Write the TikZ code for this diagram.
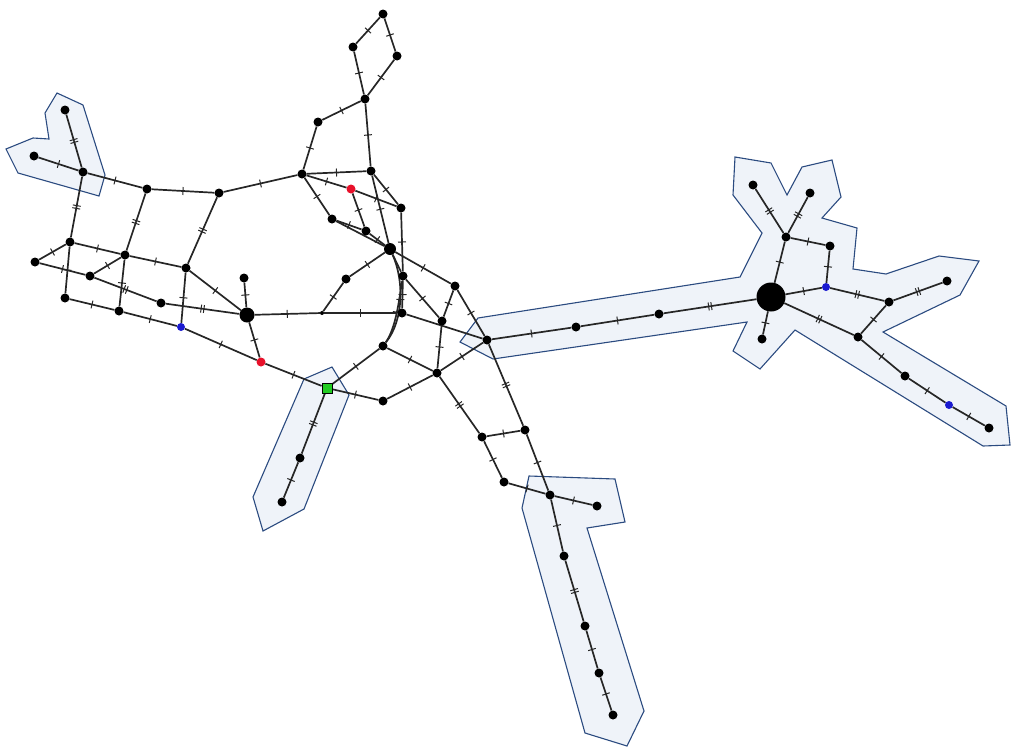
\documentclass[tikz,border=0pt]{standalone}
\usetikzlibrary{decorations.markings}
\pgfdeclarelayer{poly}
\pgfdeclarelayer{edges}
\pgfsetlayers{poly,edges,main}
\definecolor{regfill}{HTML}{EFF3F9}
\definecolor{regline}{HTML}{2B4B80}
\definecolor{rednode}{HTML}{E8102A}
\definecolor{bluenode}{HTML}{1A1AD0}
\definecolor{greennode}{HTML}{22CC22}
\tikzset{
 nd/.style={circle,fill=black,inner sep=0pt,minimum size=9pt},
 bignd/.style={nd,minimum size=15pt},
 hubnd/.style={nd,minimum size=29pt},
 midnd/.style={nd,minimum size=12pt},
 tinynd/.style={nd,minimum size=4pt},
 rednd/.style={circle,fill=rednode,inner sep=0pt,minimum size=9pt},
 bluend/.style={circle,fill=bluenode,inner sep=0pt,minimum size=8pt},
 greennd/.style={rectangle,fill=greennode,draw=black,line width=0.9pt,inner sep=0pt,minimum size=10pt},
 region/.style={fill=regfill,draw=regline,line width=1.1pt},
 ep/.style={draw=black!85,line width=1.7pt},
 e/.style={ep,postaction={decorate,decoration={markings,mark=at position 0.5 with {\draw[line width=1pt,black!85] (0,-4pt)--(0,4pt);}}}},
 ee/.style={ep,postaction={decorate,decoration={markings,mark=at position 0.5 with {\draw[line width=1pt,black!85] (-1.4pt,-4pt)--(-1.4pt,4pt) (1.4pt,-4pt)--(1.4pt,4pt);}}}}
}
\begin{document}
\begin{tikzpicture}[x=1pt,y=-1pt]
\useasboundingbox (0,0) rectangle (1014,747);
% shaded regions
\begin{pgfonlayer}{poly}
\path[region] (57,93) -- (83,105) -- (105,175) -- (99,196) -- (18,173) -- (6,149) -- (33,138) -- (49,139) -- (45,113) -- cycle;
\path[region] (304,379) -- (332,367) -- (349,395) -- (304,509) -- (263,531) -- (253,497) -- cycle;
\path[region] (529,476) -- (615,479) -- (625,522) -- (587,528) -- (644,711) -- (627,746) -- (585,733) -- (522,508) -- cycle;
\path[region] (762,233) -- (733,195) -- (735,157) -- (771,163) -- (787,195) -- (802,167) -- (832,160) -- (841,197) -- (822,218) -- (857,228) -- (853,269) -- (886,274) -- (939,256) -- (979,261) -- (960,295) -- (883,332) -- (1006,406) -- (1010,445) -- (983,446) -- (795,330) -- (760,369) -- (733,351) -- (747,322) -- (493,359) -- (460,342) -- (478,318) -- (740,277) -- cycle;
\end{pgfonlayer}
% nodes: left
\node[nd] (A1) at (65,110) {};
\node[nd] (A2) at (34,156) {};
\node[nd] (A3) at (83,172) {};
\node[nd] (B1) at (147,189) {};
\node[nd] (B2) at (219,193) {};
\node[nd] (C1) at (302,174) {};
\node[nd] (D0) at (35,262) {};
\node[nd] (D1) at (70,242) {};
\node[nd] (D2) at (125,255) {};
\node[nd] (D3) at (186,268) {};
\node[nd] (D4) at (90,276) {};
\node[nd] (D5) at (65,298) {};
\node[nd] (D6) at (119,311) {};
\node[nd] (D7) at (161,303) {};
\node[bluend] (BL1) at (181,327) {};
\node[bignd] (E) at (247,315) {};
\node[nd] (Et) at (244,278) {};
\node[rednd] (RD2) at (261,362) {};
\node[greennd] (G) at (327,388) {};
\node[nd] (G1) at (300,458) {};
\node[nd] (G2) at (282,502) {};
% top
\node[nd] (T1) at (383,14) {};
\node[nd] (T2) at (353,47) {};
\node[nd] (T3) at (397,56) {};
\node[nd] (T4) at (365,99) {};
\node[nd] (T5) at (318,122) {};
\node[nd] (T6) at (371,171) {};
\node[rednd] (RD1) at (351,189) {};
\node[nd] (T7) at (401,208) {};
\node[nd] (T8) at (332,219) {};
\node[nd] (T9) at (366,231) {};
\node[midnd] (T10) at (390,249) {};
\node[nd] (N1) at (403,276) {};
\node[nd] (N2) at (346,279) {};
\node[tinynd] (N3) at (322,313) {};
\node[nd] (N4) at (402,313) {};
\node[nd] (N5) at (455,286) {};
\node[nd] (N6) at (442,321) {};
\node[nd] (N7) at (383,346) {};
\node[nd] (N8) at (437,373) {};
\node[nd] (N9) at (383,401) {};
\node[nd] (P) at (487,340) {};
% bottom
\node[nd] (S1) at (525,430) {};
\node[nd] (S2) at (482,437) {};
\node[nd] (S3) at (504,482) {};
\node[nd] (S4) at (550,495) {};
\node[nd] (S5) at (597,506) {};
\node[nd] (S6) at (564,556) {};
\node[nd] (S7) at (585,626) {};
\node[nd] (S8) at (599,673) {};
\node[nd] (S9) at (613,715) {};
% right
\node[nd] (H1) at (576,327) {};
\node[nd] (H2) at (659,314) {};
\node[hubnd] (HUB) at (771,297) {};
\node[nd] (R1) at (753,185) {};
\node[nd] (R2) at (810,193) {};
\node[nd] (R3) at (786,237) {};
\node[nd] (R4) at (830,246) {};
\node[bluend] (BL2) at (826,287) {};
\node[nd] (R6) at (889,302) {};
\node[nd] (R7) at (947,281) {};
\node[nd] (R8) at (858,337) {};
\node[nd] (R9) at (905,376) {};
\node[bluend] (BL3) at (949,405) {};
\node[nd] (R11) at (989,428) {};
\node[nd] (R12) at (762,339) {};
% edges
\begin{pgfonlayer}{edges}
\draw[ee] (A1) -- (A3);
\draw[e] (A2) -- (A3);
\draw[e] (A3) -- (B1);
\draw[ee] (A3) -- (D1);
\draw[e] (B1) -- (B2);
\draw[ee] (B1) -- (D2);
\draw[e] (B2) -- (C1);
\draw[ee] (B2) -- (D3);
\draw[e] (D1) -- (D0);
\draw[e] (D1) -- (D2);
\draw[e] (D1) -- (D5);
\draw[e] (D2) -- (D3);
\draw[e] (D2) -- (D4);
\draw[e] (D2) -- (D6);
\draw[e] (D0) -- (D4);
\draw[ee] (D4) -- (D7);
\draw[e] (D3) -- (E);
\draw[e] (D3) -- (BL1);
\draw[e] (D5) -- (D6);
\draw[e] (D6) -- (BL1);
\draw[ee] (D7) -- (E);
\draw[e] (BL1) -- (RD2);
\draw[e] (E) -- (Et);
\draw[e] (E) -- (RD2);
\draw[e] (RD2) -- (G);
\draw[e] (E) -- (N3);
\draw[e] (N3) -- (N4);
\draw[e] (N3) -- (N2);
\draw[e] (N2) -- (T10);
\draw[e] (T1) -- (T2);
\draw[e] (T1) -- (T3);
\draw[e] (T2) -- (T4);
\draw[e] (T3) -- (T4);
\draw[e] (T4) -- (T5);
\draw[e] (T4) -- (T6);
\draw[e] (T5) -- (C1);
\draw[e] (C1) -- (T6);
\draw[e] (C1) -- (RD1);
\draw[e] (RD1) -- (T7);
\draw[e] (T6) -- (T7);
\draw[e] (T6) -- (T10);
\draw[e] (C1) -- (T8);
\draw[e] (T8) -- (T9);
\draw[ep] (T8) -- (T10);
\draw[e] (RD1) -- (T9);
\draw[e] (T9) -- (T10);
\draw[e] (T7) -- (N1);
\draw[ep] (T10) -- (N1);
\draw[e] (T10) -- (N5);
\draw[e] (N1) -- (N4);
\draw[e] (N1) -- (N6);
\draw[e] (N5) -- (N6);
\draw[ep] (N4) -- (P);
\draw[e] (N5) -- (P);
\draw[e] (N6) -- (N8);
\draw[e] (N8) -- (P);
\draw[e] (T10) .. controls (404,280) and (404,320) .. (N7);
\draw[e] (N1) .. controls (399,300) and (396,328) .. (N7);
\draw[e] (N7) -- (N8);
\draw[e] (N7) -- (G);
\draw[e] (G) -- (N9);
\draw[e] (N9) -- (N8);
\draw[ee] (N8) -- (S2);
\draw[ee] (P) -- (S1);
\draw[e] (S1) -- (S2);
\draw[e] (S2) -- (S3);
\draw[e] (S1) -- (S4);
\draw[e] (S3) -- (S4);
\draw[e] (S4) -- (S5);
\draw[e] (S4) -- (S6);
\draw[ee] (S6) -- (S7);
\draw[e] (S7) -- (S8);
\draw[e] (S8) -- (S9);
\draw[ee] (G) -- (G1);
\draw[e] (G1) -- (G2);
\draw[e] (P) -- (H1);
\draw[e] (H1) -- (H2);
\draw[ee] (H2) -- (HUB);
\draw[e] (HUB) -- (R12);
\draw[e] (HUB) -- (R3);
\draw[ee] (R3) -- (R1);
\draw[ee] (R3) -- (R2);
\draw[e] (R3) -- (R4);
\draw[e] (R4) -- (BL2);
\draw[e] (HUB) -- (BL2);
\draw[ee] (BL2) -- (R6);
\draw[ee] (R6) -- (R7);
\draw[e] (R6) -- (R8);
\draw[ee] (HUB) -- (R8);
\draw[e] (R8) -- (R9);
\draw[e] (R9) -- (BL3);
\draw[e] (BL3) -- (R11);
\end{pgfonlayer}
\end{tikzpicture}
\end{document}
